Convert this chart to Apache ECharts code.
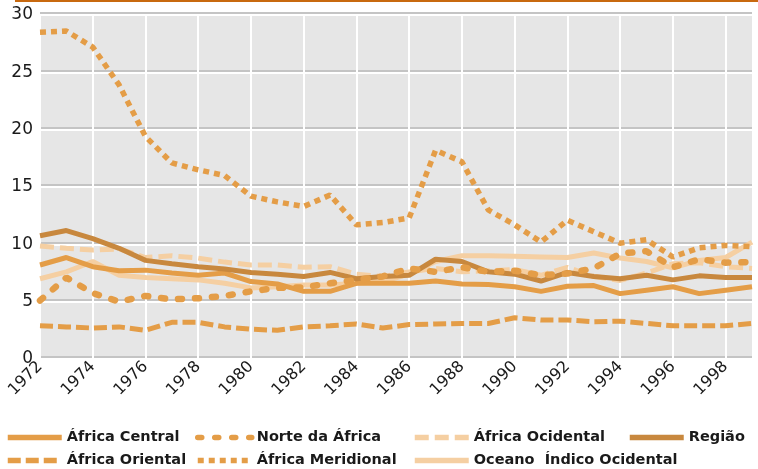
<!DOCTYPE html>
<html>
<head>
<meta charset="utf-8">
<script src="https://cdn.jsdelivr.net/npm/echarts@6/dist/echarts.min.js"></script>
<style>
    html, body {margin:0;padding:0;background:#fff;}
    #chart {width:758px;height:469px;}
</style>
</head>
<body>
<div id="chart"></div>
<script>
    var years = [];
    for (var y = 1972; y <= 1999; y++) years.push(String(y));

    var africaCentral = [8.2, 8.85, 8.05, 7.7, 7.75, 7.5, 7.3, 7.5, 6.75, 6.55, 5.9, 5.9, 6.6, 6.6,
        6.6, 6.8, 6.55, 6.5, 6.3, 5.9, 6.35, 6.4, 5.7, 6.0, 6.3, 5.7, 6.0, 6.3];
    var norteAfrica = [5.1, 7.1, 5.75, 5.0, 5.5, 5.2, 5.3, 5.5, 5.9, 6.2, 6.25, 6.6, 6.9, 7.2,
        7.9, 7.6, 8.0, 7.6, 7.7, 7.3, 7.45, 7.9, 9.2, 9.4, 8.0, 8.7, 8.4, 8.45];
    var africaOcidental = [9.85, 9.65, 9.5, 9.6, 8.85, 9.0, 8.8, 8.45, 8.2, 8.2, 8.0, 8.05, 7.4, 7.2,
        7.6, 7.9, 7.6, 7.7, 7.8, 7.3, 8.0, 7.2, 6.85, 7.5, 8.3, 8.4, 8.05, 7.9];
    var regiao = [10.75, 11.2, 10.5, 9.65, 8.6, 8.3, 8.05, 7.85, 7.55, 7.4, 7.2, 7.55, 7.0, 7.2,
        7.3, 8.7, 8.5, 7.6, 7.4, 6.8, 7.55, 7.2, 7.0, 7.3, 6.9, 7.25, 7.1, 7.1];
    var africaOriental = [2.9, 2.8, 2.7, 2.8, 2.5, 3.2, 3.2, 2.8, 2.6, 2.5, 2.8, 2.9, 3.05, 2.7,
        3.0, 3.05, 3.1, 3.1, 3.6, 3.4, 3.4, 3.25, 3.3, 3.1, 2.9, 2.9, 2.9, 3.1];
    var africaMeridional = [28.5, 28.6, 27.2, 23.9, 19.4, 17.1, 16.5, 16.0, 14.2, 13.7, 13.3, 14.3, 11.7, 11.9,
        12.3, 18.2, 17.2, 13.0, 11.7, 10.2, 12.1, 11.1, 10.1, 10.4, 8.9, 9.7, 9.9, 9.8];
    var oceanoIndico = [7.0, 7.6, 8.5, 7.3, 7.1, 7.0, 6.9, 6.6, 6.2, 6.3, 6.45, 6.45, 6.6, 6.75,
        7.4, 8.5, 9.0, 9.0, 8.95, 8.9, 8.85, 9.25, 8.8, 8.5, 7.95, 8.6, 8.85, 10.2];

    var orange = '#e49d47';
    var dark = '#c8883e';
    var light = '#f5cfa2';

    function line(name, data, color, type, cap, width) {
        return {
            name: name,
            type: 'line',
            data: data,
            symbol: 'none',
            animation: false,
            lineStyle: {color: color, width: width || 5, type: type, cap: cap || 'butt'},
            itemStyle: {color: color}
        };
    }

    var legendFont = {fontFamily: 'DejaVu Sans', fontWeight: 'bold', fontSize: 14.5, color: '#1a1a1a'};
    function legendItem(name, left, top) {
        return {
            data: [name], left: left, top: top, padding: 0,
            itemWidth: 54, itemHeight: 12, itemGap: 0,
            itemStyle: {opacity: 0},
            lineStyle: {width: 5.5},
            textStyle: legendFont, selectedMode: false
        };
    }

    var chart = echarts.init(document.getElementById('chart'));
    chart.setOption({
        animation: false,
        grid: {left: 40, right: 6, top: 15, bottom: 110, backgroundColor: '#e6e6e6', show: true, borderWidth: 0},
        graphic: [{type: 'rect', shape: {x: 15, y: 0, width: 743, height: 2}, style: {fill: '#c8690f'}}],
        legend: [
            legendItem('África Central', 5, 430),
            legendItem('Norte da África', 195, 430),
            legendItem('África Ocidental', 412, 430),
            legendItem('Região', 627, 430),
            legendItem('África Oriental', 5, 453),
            legendItem('África Meridional', 195, 453),
            legendItem('Oceano  Índico Ocidental', 412, 453)
        ],
        xAxis: {
            type: 'category',
            data: years,
            boundaryGap: false,
            axisLine: {show: false},
            axisTick: {show: false},
            axisLabel: {interval: 1, rotate: 45, fontFamily: 'DejaVu Sans', fontSize: 16, color: '#1a1a1a', margin: 5},
            splitLine: {show: true, interval: 1, lineStyle: {color: '#ffffff', width: 2}}
        },
        yAxis: {
            type: 'value',
            min: 0, max: 30, interval: 5,
            axisLine: {show: false},
            axisTick: {show: false},
            axisLabel: {fontFamily: 'DejaVu Sans', fontSize: 17, color: '#1a1a1a', margin: 7},
            splitLine: {lineStyle: {color: '#ffffff', width: 2, shadowColor: '#c4c4c4', shadowOffsetY: -2, shadowBlur: 0}}
        },
        series: [
            line('África Oriental', africaOriental, orange, [13, 5]),
            line('África Ocidental', africaOcidental, light, [14, 6]),
            line('Oceano  Índico Ocidental', oceanoIndico, light, 'solid'),
            line('África Central', africaCentral, orange, 'solid'),
            line('Região', regiao, dark, 'solid'),
            line('Norte da África', norteAfrica, orange, [4, 13], 'round', 6.5),
            line('África Meridional', africaMeridional, orange, [6, 5], 'butt', 5.5)
        ]
    });
</script>
</body>
</html>
